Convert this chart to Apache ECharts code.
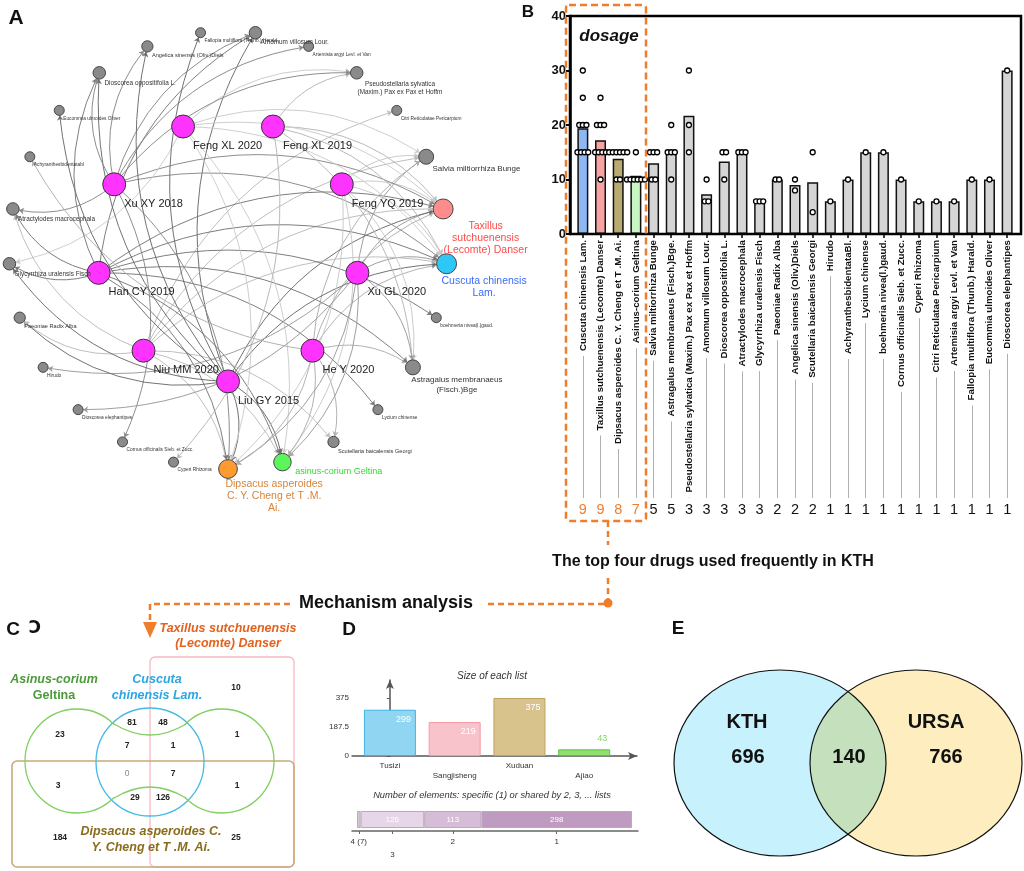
<!DOCTYPE html>
<html><head><meta charset="utf-8">
<script src="https://cdn.jsdelivr.net/npm/echarts@6/dist/echarts.min.js"></script>
<style>html,body{margin:0;padding:0;background:#fff}#c{width:1024px;height:871px}</style>
</head><body><div id="c"></div>
<script>
const FONT = "'Liberation Sans', Arial, sans-serif";
const ORANGE = '#f07d2c';

// ---------- Panel B data ----------
const bCategories = ['Cuscuta chinensis Lam.', 'Taxillus sutchuenensis (Lecomte) Danser', 'Dipsacus asperoides C. Y. Cheng et T .M. Ai.', 'Asinus-corium Geltina', 'Salvia miltiorrhiza Bunge', 'Astragalus membranaeus (Fisch.)Bge.', 'Pseudostellaria sylvatica (Maxim.) Pax ex Pax et Hoffm', 'Amomum villosum Lour.', 'Dioscorea oppositifolia L.', 'Atractylodes macrocephala', 'Glycyrrhiza uralensis Fisch', 'Paeoniae Radix Alba', 'Angelica sinensis (Oliv.)Diels', 'Scutellaria baicalensis Georgi', 'Hirudo', 'AchyranthesbidentataBl.', 'Lycium chinense', 'boehmeria nivea(l.)gaud.', 'Cornus officinalis Sieb. et Zucc.', 'Cyperi Rhizoma', 'Citri Reticulatae Pericarpium', 'Artemisia argyi Levl. et Van', 'Fallopia multiflora (Thunb.) Harald.', 'Eucommia ulmoides Oliver', 'Dioscorea elephantipes'];
const bFrequency = [9, 9, 8, 7, 5, 5, 3, 3, 3, 3, 3, 2, 2, 2, 1, 1, 1, 1, 1, 1, 1, 1, 1, 1, 1];
const bMeanDose = [19.4, 17.2, 13.8, 10.7, 13, 15, 21.7, 7.3, 13.3, 15, 6, 10, 9, 9.5, 6, 10, 15, 15, 10, 6, 6, 6, 10, 10, 30];
const bDoses = [
  [30, 25, 20, 20, 20, 15, 15, 15, 15],
  [25, 20, 20, 20, 15, 15, 15, 15, 10],
  [15, 15, 15, 15, 15, 15, 10, 10],
  [15, 10, 10, 10, 10, 10, 10],
  [15, 15, 15, 10, 10],
  [20, 15, 15, 15, 10],
  [30, 20, 15],
  [10, 6, 6],
  [15, 15, 10],
  [15, 15, 15],
  [6, 6, 6],
  [10, 10],
  [10, 8],
  [15, 4],
  [6], [10], [15], [15], [10], [6], [6], [6], [10], [10], [30]
];
const bHighlight = ['#8db8f4', '#f6a3a3', '#b9aa72', '#c9f7c3'];

// ---------- Panel A data ----------
const aStudies = ['Feng XL 2019', 'Feng YQ 2019', 'Xu GL 2020', 'He Y 2020', 'Liu GY 2015', 'Niu MM 2020', 'Han CY 2019', 'Xu XY 2018', 'Feng XL 2020'];
// outer ring, clockwise from top: index into bCategories
const aOuterOrder = [7, 21, 6, 20, 4, 1, 0, 17, 5, 16, 13, 3, 2, 19, 18, 24, 14, 11, 10, 9, 15, 23, 8, 12, 22];
const aLabels = ['Amomum villosum Lour.', 'Artemisia argyi Levl. et Van', 'Pseudostellaria sylvatica\n(Maxim.) Pax ex Pax et Hoffm', 'Citri Reticulatae Pericarpium', 'Salvia miltiorrhiza Bunge', 'Taxillus\nsutchuenensis\n(Lecomte) Danser', 'Cuscuta chinensis\nLam.', 'boehmeria nivea(l.)gaud.', 'Astragalus membranaeus\n(Fisch.)Bge', 'Lycium chinense', 'Scutellaria baicalensis Georgi', 'asinus-corium Geltina', 'Dipsacus asperoides\nC. Y. Cheng et T .M.\nAi.', 'Cyperi Rhizoma', 'Cornus officinalis Sieb. et Zucc.', 'Dioscorea elephantipes', 'Hirudo', 'Paeoniae Radix Alba', 'Glycyrrhiza uralensis Fisch', 'Atractylodes macrocephala', 'Achyranthesbidentatabl', 'Eucommia ulmoides Oliver', 'Dioscorea oppositifolia L.', 'Angelica sinensis (Oliv.)Diels', 'Fallopia multiflora (Thunb.) Harald.'];
// which studies (index in aStudies) used each outer drug
const aLinks = [[4, 6, 7], [7], [8, 0, 7], [5], [8, 1, 2, 3, 5], [0, 1, 2, 3, 4, 5, 6, 7, 8], [0, 1, 2, 3, 4, 5, 6, 7, 8], [6], [0, 1, 2, 3, 6], [6], [3, 5], [1, 2, 3, 4, 5, 6, 8], [1, 2, 3, 4, 5, 6, 7, 8], [0], [7], [2], [2], [4, 5], [4, 6, 8], [5, 6, 7], [3], [4], [4, 6, 7], [4, 7], [4]];

// ---------- Panel C data ----------
const cCounts = [10, 23, 81, 48, 1, 7, 1, 0, 7, 3, 1, 29, 126, 184, 25];

// ---------- Panel D data ----------
const dLists = ['Tusizi', 'Sangjisheng', 'Xuduan', 'Ajiao'];
const dSizes = [299, 219, 375, 43];
const dYTicks = [0, 187.5, 375];
const dShared = [7, 126, 113, 298];
const dSharedLabels = ['4 (7)', '3', '2', '1'];

// ---------- Panel E data ----------
const eSets = ['KTH', 'URSA'];
const eCounts = [696, 140, 766];

// ================= build =================
const chart = echarts.init(document.getElementById('c'));

// B dots
const dotData = [];
bDoses.forEach((arr, ci) => {
  const cnt = {}, seen = {};
  arr.forEach(v => cnt[v] = (cnt[v] || 0) + 1);
  arr.forEach(v => {
    seen[v] = seen[v] === undefined ? 0 : seen[v] + 1;
    dotData.push({ value: [ci, v], symbolOffset: [(seen[v] - (cnt[v] - 1) / 2) * 3.6, 0] });
  });
});

// A graph
const studyEdgeColor = ['#b6b6b6', '#c8c8c8', '#9a9a9a', '#aeaeae', '#6a6a6a', '#bcbcbc', '#777777', '#888888', '#cbcbcb'];
const specialNode = {
  5: { color: '#ff8c8c', label: { position: [53, 22], align: 'center', fontSize: 10.5, lineHeight: 12, color: '#ff4a4a' } },
  6: { color: '#2ec8f8', label: { position: [48, 22], align: 'center', fontSize: 10.5, lineHeight: 12, color: '#3a6cff' } },
  11: { color: '#5cf55c', label: { position: [22, 14], align: 'left', fontSize: 9, color: '#33d633' } },
  12: { color: '#ff9a30', label: { position: [56, 19], align: 'center', fontSize: 10.5, lineHeight: 12, color: '#d8843a' } },
  2: { label: { position: [50, 14], align: 'center', lineHeight: 8 } },
  8: { label: { position: [52, 15], align: 'center', lineHeight: 10 } }
};
const nodes = [];
aOuterOrder.forEach((bi, i) => {
  const f = bFrequency[bi];
  const s = 10 + (f - 1) * 1.25;
  const sp = specialNode[i] || {};
  const lab = Object.assign({ show: true, position: [s * 0.95, s * 1.1], align: 'left', verticalAlign: 'top', fontSize: 4.8 + (f - 1) * 0.8, color: '#333', fontFamily: FONT, formatter: aLabels[i] }, sp.label || {});
  nodes.push({ id: 'd' + i, name: aLabels[i], value: [1, (i + 0.5) * 360 / aOuterOrder.length], symbolSize: s,
    itemStyle: { color: sp.color || '#8a8a8a', borderColor: '#444', borderWidth: 1 }, label: lab });
});
aStudies.forEach((st, k) => {
  nodes.push({ id: 's' + k, name: st, value: [0.6, 20 + 40 * k], symbolSize: 23,
    itemStyle: { color: '#ff33ff', borderColor: '#333', borderWidth: 1 },
    label: { show: true, position: [22, 26], align: 'left', verticalAlign: 'top', fontSize: 11, color: '#222', fontFamily: FONT, formatter: st } });
});
const links = [];
aLinks.forEach((arr, i) => arr.forEach(k => links.push({ source: 's' + k, target: 'd' + i, lineStyle: { color: studyEdgeColor[k] } })));

// D stacked centers
const dCenters = [];
let cum = 0;
dShared.forEach(v => { dCenters.push(cum + v / 2); cum += v; });
const dSharedColors = ['#d6cbd6', '#e7d6e7', '#d5bdd8', '#c09bc1'];
const dColors = [['#90d6f2', '#3fb3e3'], ['#f8c3ca', '#f09aa6'], ['#d9c38d', '#bfa062'], ['#8fe06f', '#5cc43c']];

// graphics
const G = [];
function T(x, y, text, o) {
  G.push({ type: 'text', x: x, y: y, z: 50, style: Object.assign({ text: text, fill: '#111', fontSize: 12, fontFamily: FONT, align: 'center', verticalAlign: 'middle' }, o || {}) });
}
function L(pts, o) {
  G.push({ type: 'polyline', z: 40, shape: { points: pts }, style: Object.assign({ stroke: ORANGE, lineWidth: 2.5, lineDash: [6, 4], fill: null }, o || {}) });
}
// panel letters
T(16, 18, 'A', { fontSize: 21, fontWeight: 'bold' });
T(528, 12, 'B', { fontSize: 17, fontWeight: 'bold' });
T(13, 630, 'C', { fontSize: 19, fontWeight: 'bold' });
T(35, 629, 'Ↄ', { fontSize: 17, fontWeight: 'bold', fontFamily: 'DejaVu Sans' });
T(349, 630, 'D', { fontSize: 19, fontWeight: 'bold' });
T(678, 629, 'E', { fontSize: 19, fontWeight: 'bold' });
// B frame + dosage
G.push({ type: 'rect', z: 30, shape: { x: 570, y: 16, width: 451, height: 218 }, style: { fill: null, stroke: '#000', lineWidth: 2.5 } });
T(609, 36, 'dosage', { fontSize: 17, fontWeight: 'bold', fontStyle: 'italic' });
// orange connectors
G.push({ type: 'rect', z: 40, shape: { x: 566, y: 5, width: 80, height: 516, r: 3 }, style: { fill: null, stroke: ORANGE, lineWidth: 2.5, lineDash: [7, 4] } });
L([[608, 521], [608, 545]]);
L([[608, 578], [608, 603]]);
T(713, 562, 'The top four drugs used frequently in KTH', { fontSize: 16, fontWeight: 'bold' });
G.push({ type: 'circle', z: 41, shape: { cx: 608, cy: 603, r: 4.5 }, style: { fill: ORANGE } });
L([[604, 604], [484, 604]]);
T(386, 603, 'Mechanism analysis', { fontSize: 18, fontWeight: 'bold' });
L([[290, 604], [150, 604], [150, 622]]);
G.push({ type: 'polygon', z: 41, shape: { points: [[143, 622], [157, 622], [150, 638]] }, style: { fill: ORANGE } });
// C venn shapes
G.push({ type: 'rect', z: 20, shape: { x: 150, y: 657, width: 144, height: 210, r: 5 }, style: { fill: null, stroke: '#f7b9c2', lineWidth: 1.3 } });
G.push({ type: 'rect', z: 20, shape: { x: 12, y: 761, width: 282, height: 106, r: 5 }, style: { fill: null, stroke: '#c9a97a', lineWidth: 1.6 } });
G.push({ type: 'circle', z: 20, shape: { cx: 150, cy: 762, r: 54 }, style: { fill: null, stroke: '#45b9e8', lineWidth: 1.3 } });
const gs = { fill: null, stroke: '#80cf60', lineWidth: 1.3 };
G.push({ type: 'arc', z: 20, shape: { cx: 77, cy: 761, r: 52, startAngle: 0.772, endAngle: 5.511, clockwise: true }, style: gs });
G.push({ type: 'arc', z: 20, shape: { cx: 222, cy: 761, r: 52, startAngle: -2.37, endAngle: 2.37, clockwise: true }, style: gs });
G.push({ type: 'bezierCurve', z: 20, shape: { x1: 114, y1: 724, x2: 186, y2: 724, cpx1: 150, cpy1: 746 }, style: gs });
G.push({ type: 'bezierCurve', z: 20, shape: { x1: 114, y1: 798, x2: 186, y2: 798, cpx1: 150, cpy1: 776 }, style: gs });
const cPos = [[236, 688], [60, 735], [132, 723], [163, 723], [237, 735], [127, 746], [173, 746], [127, 774], [173, 774], [58, 786], [237, 786], [135, 798], [163, 798], [60, 838], [236, 838]];
cCounts.forEach((v, i) => T(cPos[i][0], cPos[i][1], String(v), v === 0 ? { fontSize: 8.5, fill: '#888' } : { fontSize: 8.5, fontWeight: 'bold', fill: '#222' }));
const it = { fontSize: 12.5, fontWeight: 'bold', fontStyle: 'italic' };
T(228, 629, 'Taxillus sutchuenensis', Object.assign({ fill: '#e2621e' }, it));
T(228, 644, '(Lecomte) Danser', Object.assign({ fill: '#e2621e' }, it));
T(54, 680, 'Asinus-corium', Object.assign({ fill: '#4c9a3c' }, it));
T(54, 696, 'Geltina', { fill: '#4c9a3c', fontSize: 12.5, fontWeight: 'bold' });
T(157, 680, 'Cuscuta', Object.assign({ fill: '#2aa6e2' }, it));
T(157, 696, 'chinensis Lam.', Object.assign({ fill: '#2aa6e2' }, it));
T(151, 832, 'Dipsacus asperoides C.', Object.assign({ fill: '#8a6c1c' }, it));
T(151, 848, 'Y. Cheng et T .M. Ai.', Object.assign({ fill: '#8a6c1c' }, it));
// D titles
T(492, 676, 'Size of each list', { fontSize: 10, fontStyle: 'italic', fill: '#333' });
T(492, 795, 'Number of elements: specific (1) or shared by 2, 3, ... lists', { fontSize: 9.3, fontStyle: 'italic', fill: '#333' });
// E venn
G.push({ type: 'ellipse', z: 20, shape: { cx: 780, cy: 763, rx: 106, ry: 93 }, style: { fill: '#c6f1fd', stroke: '#111', lineWidth: 1.2 } });
G.push({ type: 'ellipse', z: 21, shape: { cx: 916, cy: 763, rx: 106, ry: 93 }, style: { fill: '#fdedbf', stroke: '#111', lineWidth: 1.2, blend: 'multiply' } });
const eb = { fontSize: 20, fontWeight: 'bold', fill: '#111' };
T(747, 722, eSets[0], eb);
T(936, 722, eSets[1], eb);
T(748, 757, String(eCounts[0]), eb);
T(849, 757, String(eCounts[1]), eb);
T(946, 757, String(eCounts[2]), eb);

const option = {
  animation: false,
  textStyle: { fontFamily: FONT },
  grid: [
    { left: 574, top: 16, width: 442, height: 218 },
    { left: 574, top: 240, width: 442, height: 258 },
    { left: 352, top: 680, width: 285, height: 76 },
    { left: 352, top: 811, width: 286, height: 17 }
  ],
  polar: { center: [228, 250], radius: 219 },
  angleAxis: { type: 'value', min: 0, max: 360, startAngle: 90, clockwise: true, show: false },
  radiusAxis: { type: 'value', min: 0, max: 1, show: false },
  xAxis: [
    { type: 'category', gridIndex: 0, data: bCategories, z: 10,
      axisLine: { show: false }, axisTick: { show: true, alignWithLabel: true, length: 4, lineStyle: { color: '#000', width: 1.5 } },
      axisLabel: { interval: 0, rotate: 90, fontSize: 9.7, fontWeight: 'bold', color: '#111', margin: 6, backgroundColor: '#fff', padding: [0, 0, 0, 5] } },
    { type: 'category', gridIndex: 1, data: bFrequency.map(String), position: 'bottom', z: 1,
      axisLine: { show: false }, axisTick: { show: true, alignWithLabel: true, inside: true, length: 258, lineStyle: { color: '#9a9a9a', width: 0.8 } },
      axisLabel: { interval: 0, fontSize: 14.5, margin: 4, color: (v, i) => i < 4 ? ORANGE : '#111' } },
    { type: 'value', gridIndex: 2, min: -0.585, max: 3.815, splitLine: { show: false },
      axisLine: { show: true, symbol: ['none', 'arrow'], symbolSize: [6, 9], lineStyle: { color: '#555', width: 1.5 } },
      axisTick: { show: false },
      axisLabel: { customValues: [0, 1, 2, 3], fontSize: 8, color: '#333', margin: 5, lineHeight: 10,
        formatter: v => { const i = Math.round(v); return i % 2 ? '\n' + dLists[i] : dLists[i]; } } },
    { type: 'value', gridIndex: 3, min: -9.9, max: 555.9, show: false },
    { type: 'value', gridIndex: 3, min: -9.9, max: 555.9, position: 'bottom', offset: 3, splitLine: { show: false },
      axisLine: { show: true, lineStyle: { color: '#666', width: 1.5 } },
      axisTick: { show: true, customValues: dCenters, length: 3, lineStyle: { color: '#666' } },
      axisLabel: { customValues: dCenters, fontSize: 8, color: '#333', margin: 4, lineHeight: 13,
        formatter: v => { let i = 0; dCenters.forEach((c, k) => { if (Math.abs(c - v) < 0.01) i = k; }); return i === 1 ? '\n' + dSharedLabels[i] : dSharedLabels[i]; } } }
  ],
  yAxis: [
    { type: 'value', gridIndex: 0, min: 0, max: 40, interval: 10, offset: 4, splitLine: { show: false },
      axisLine: { show: true, lineStyle: { color: '#000', width: 2.5 } },
      axisTick: { show: true, length: 4, lineStyle: { color: '#000', width: 2 } },
      axisLabel: { fontSize: 13, fontWeight: 'bold', color: '#111', margin: 4 } },
    { type: 'value', gridIndex: 1, show: false },
    { type: 'value', gridIndex: 2, min: 0, max: 491, splitLine: { show: false },
      axisLine: { show: true, symbol: ['none', 'arrow'], symbolSize: [6, 9], lineStyle: { color: '#555', width: 1.5 } },
      axisTick: { show: true, customValues: dYTicks, length: 3, lineStyle: { color: '#555' } },
      axisLabel: { customValues: dYTicks, fontSize: 8, color: '#333', margin: 3 } },
    { type: 'category', gridIndex: 3, data: ['n'], show: false }
  ],
  series: [
    { type: 'bar', xAxisIndex: 0, yAxisIndex: 0, barWidth: 11, z: 2,
      data: bMeanDose.map((v, i) => ({ value: v, itemStyle: { color: i < 4 ? bHighlight[i] : '#d5d5d5' } })),
      itemStyle: { borderColor: '#111', borderWidth: 1.5 } },
    { type: 'scatter', xAxisIndex: 0, yAxisIndex: 0, z: 4, symbol: 'circle', symbolSize: 5, data: dotData,
      itemStyle: { color: '#fff', borderColor: '#000', borderWidth: 1.3, opacity: 1 } },
    { type: 'bar', xAxisIndex: 1, yAxisIndex: 1, data: [] },
    { type: 'graph', coordinateSystem: 'polar', polarIndex: 0, data: nodes, links: links, silent: true, z: 3,
      edgeSymbol: ['none', 'arrow'], edgeSymbolSize: [0, 5],
      lineStyle: { width: 1, curveness: 0.25, opacity: 0.95 }, emphasis: { disabled: true } },
    { type: 'bar', xAxisIndex: 2, yAxisIndex: 2, barWidth: 52,
      data: dSizes.map((v, i) => ({ value: [i, v], itemStyle: { color: dColors[i][0], borderColor: dColors[i][1], borderWidth: 1 },
        label: i === 3 ? { position: 'top', offset: [18, -1], color: '#7cd860' } : undefined })),
      label: { show: true, position: 'insideTopRight', color: '#fff', fontSize: 9, formatter: p => p.value[1] } }
  ].concat(dShared.map((v, i) => ({
    type: 'bar', stack: 'shared', xAxisIndex: 3, yAxisIndex: 3, barWidth: 17, data: [v],
    itemStyle: { color: dSharedColors[i], borderColor: '#b9a9b9', borderWidth: 1 },
    label: { show: i > 0, position: 'inside', color: '#fff', fontSize: 8 }
  }))).concat([{ type: 'scatter', xAxisIndex: 4, yAxisIndex: 3, data: [] }]),
  graphic: { elements: G }
};
chart.setOption(option);
</script></body></html>
